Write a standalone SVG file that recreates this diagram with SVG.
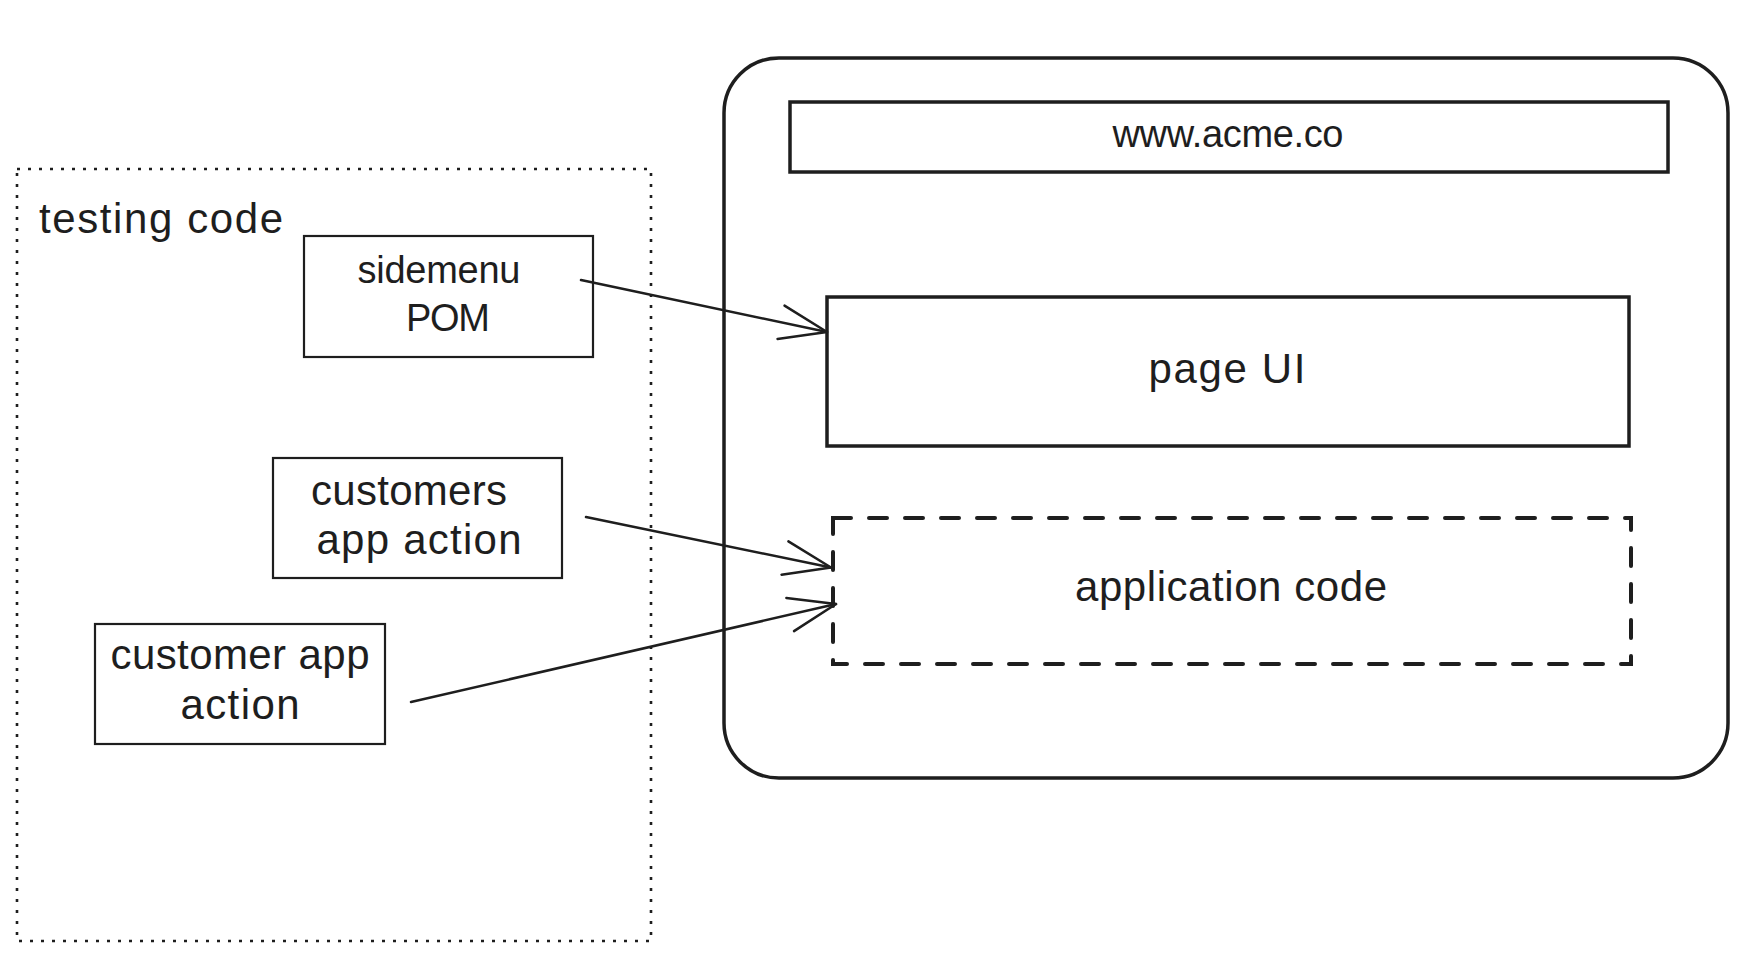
<svg xmlns="http://www.w3.org/2000/svg" width="1760" height="972" viewBox="0 0 1760 972">
  <style>
    .lbl { font-family: "Liberation Sans", Arial, sans-serif; font-size: 42px; fill: #1e1e1e; }
    .sm { font-size: 38px; }
    .mid { text-anchor: middle; }
    .thin { fill: none; stroke: #1e1e1e; stroke-width: 2.2; }
    .thick { fill: none; stroke: #1e1e1e; stroke-width: 3.5; }
    .dotted { fill: none; stroke: #1e1e1e; stroke-width: 2.6; stroke-dasharray: 3 8; }
    .dashed { fill: none; stroke: #1e1e1e; stroke-width: 4; stroke-dasharray: 18 18; stroke-linecap: round; }
    .conn { fill: none; stroke: #1e1e1e; stroke-width: 2.5; stroke-linecap: round; }
  </style>
  <defs>
    <marker id="arrow" markerUnits="userSpaceOnUse" markerWidth="60" markerHeight="40" refX="0" refY="0" orient="auto" overflow="visible">
      <path d="M -47 -17 L 0 0 L -47 17" fill="none" stroke="#1e1e1e" stroke-width="2.5" stroke-linecap="round" stroke-linejoin="round"/>
    </marker>
  </defs>
  <rect width="1760" height="972" fill="#ffffff"/>

  <g id="node-testing-code">
    <rect class="dotted" x="17" y="169" width="634" height="772"/>
    <text class="lbl" x="39" y="233" textLength="244">testing code</text>
  </g>

  <g id="node-browser">
    <rect class="thick" x="724" y="58" width="1004" height="720" rx="55" ry="55" stroke-width="3.8"/>
  </g>

  <g id="node-url-bar">
    <rect class="thick" x="790" y="102" width="878" height="70" stroke-width="4"/>
    <text class="lbl sm mid" x="1228" y="147" font-size="37" textLength="231">www.acme.co</text>
  </g>

  <g id="node-page-ui">
    <rect class="thick" x="827" y="297" width="802" height="149"/>
    <text class="lbl mid" x="1227" y="383" textLength="157">page UI</text>
  </g>

  <g id="node-application-code">
    <rect class="dashed" x="833" y="518" width="798" height="146"/>
    <text class="lbl mid" x="1231" y="601" textLength="312">application code</text>
  </g>

  <g id="node-sidemenu-pom">
    <rect class="thin" x="304" y="236" width="289" height="121"/>
    <text class="lbl sm mid" x="439" y="283" textLength="163">sidemenu</text>
    <text class="lbl sm mid" x="448" y="331" textLength="84">POM</text>
  </g>

  <g id="node-customers-app-action">
    <rect class="thin" x="273" y="458" width="289" height="120"/>
    <text class="lbl mid" x="409" y="505" textLength="196">customers</text>
    <text class="lbl mid" x="419" y="554" textLength="205">app action</text>
  </g>

  <g id="node-customer-app-action">
    <rect class="thin" x="95" y="624" width="290" height="120"/>
    <text class="lbl mid" x="240" y="669" textLength="259">customer app</text>
    <text class="lbl mid" x="240" y="719" textLength="119">action</text>
  </g>

  <g id="connectors">
    <line class="conn" x1="581" y1="280" x2="827" y2="332" marker-end="url(#arrow)" stroke-width="3"/>
    <line class="conn" x1="586" y1="517" x2="831" y2="567.5" marker-end="url(#arrow)"/>
    <line class="conn" x1="411" y1="702" x2="836" y2="604" marker-end="url(#arrow)" stroke-width="3"/>
  </g>
</svg>
